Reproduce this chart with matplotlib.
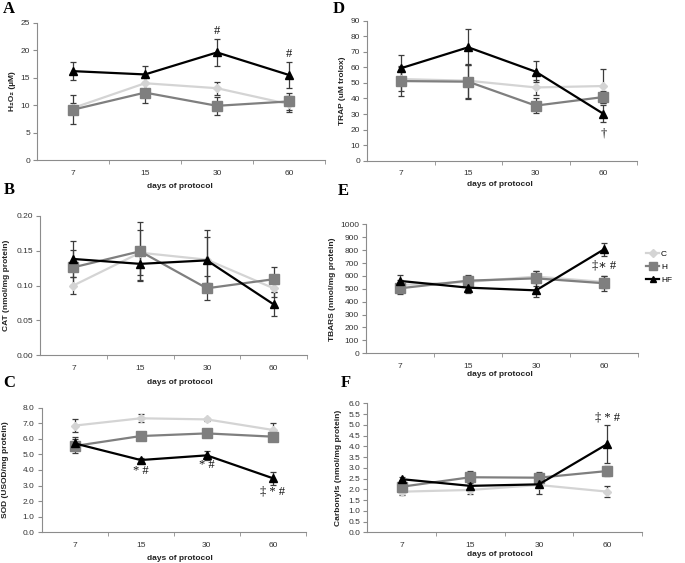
import matplotlib
matplotlib.use("Agg")
import matplotlib.pyplot as plt
from matplotlib.lines import Line2D
import numpy as np

W, H = 685, 563

plt.rcParams['font.family'] = ['Liberation Sans', 'DejaVu Sans']

days = ["7", "15", "30", "60"]
groups = ["C", "H", "HF"]

# A - H2O2 (uM)
h2o2_c = [9.5, 14.0, 13.1, 10.2]
h2o2_c_err = [1.0, 1.2, 1.2, 1.4]
h2o2_h = [9.2, 12.3, 9.9, 10.7]
h2o2_h_err = [2.6, 1.9, 1.6, 1.6]
h2o2_hf = [16.2, 15.6, 19.6, 15.5]
h2o2_hf_err = [1.6, 1.5, 2.4, 2.3]

# B - CAT (nmol/mg protein)
cat_c = [0.100, 0.147, 0.137, 0.096]
cat_c_err = [0.012, 0.032, 0.033, 0.013]
cat_h = [0.126, 0.149, 0.096, 0.109]
cat_h_err = [0.025, 0.042, 0.017, 0.018]
cat_hf = [0.138, 0.131, 0.136, 0.073]
cat_hf_err = [0.026, 0.023, 0.044, 0.017]

# C - SOD (USOD/mg protein)
sod_c = [6.85, 7.32, 7.25, 6.57]
sod_c_err = [0.42, 0.25, 0.10, 0.47]
sod_h = [5.54, 6.18, 6.35, 6.14]
sod_h_err = [0.47, 0.25, 0.15, 0.10]
sod_hf = [5.71, 4.64, 4.94, 3.47]
sod_hf_err = [0.38, 0.10, 0.30, 0.42]

# D - TRAP (uM trolox)
trap_c = [52.5, 51.4, 47.1, 48.0]
trap_c_err = [8.0, 11.0, 5.0, 10.7]
trap_h = [51.2, 50.8, 35.4, 40.9]
trap_h_err = [9.5, 11.0, 5.0, 3.9]
trap_hf = [59.4, 72.9, 57.2, 30.2]
trap_hf_err = [8.7, 11.7, 6.9, 5.6]

# E - TBARS (nmol/mg protein)
tbars_c = [530, 553, 595, 553]
tbars_c_err = [40, 40, 40, 50]
tbars_h = [504, 563, 581, 543]
tbars_h_err = [45, 45, 58, 60]
tbars_hf = [561, 509, 488, 806]
tbars_hf_err = [48, 40, 55, 52]

# F - Carbonyls (nmol/mg protein)
carb_c = [1.89, 1.97, 2.20, 1.89]
carb_c_err = [0.15, 0.20, 0.10, 0.25]
carb_h = [2.12, 2.56, 2.54, 2.85]
carb_h_err = [0.30, 0.27, 0.25, 0.23]
carb_hf = [2.47, 2.16, 2.23, 4.11]
carb_hf_err = [0.12, 0.18, 0.43, 0.90]

# significance marks: (day index, y value, text)
marks_a = [(2, 23.5, "#"), (3, 19.4, "#")]
marks_c = [(1, 3.93, "* #"), (2, 4.32, "* #"), (3, 2.65, "\u2021 * #")]
marks_d = [(3, 17.6, "\u2020")]
marks_e = [(3, 677, "\u2021\u2217 #")]
marks_f = [(3, 5.35, "\u2021 * #")]

STYLE = {
    "C": dict(color="#d4d4d4", marker="D", ms=4.5),
    "H": dict(color="#7f7f7f", marker="s", ms=6.5),
    "HF": dict(color="#000000", marker="^", ms=6),
}
AXIS_GREY = "#8c8c8c"


def px_rect(left, right, top, bottom):
    return [left / W, 1 - bottom / H, (right - left) / W, (bottom - top) / H]


def fx(x):
    return x / W


def fy(y):
    return 1 - y / H


def draw_panel(fig, rect, series, ymax, step, fmt, marks):
    ax = fig.add_axes(rect)
    x = np.arange(len(days))
    for name, (vals, errs) in zip(groups, series):
        st = STYLE[name]
        ax.errorbar(x, vals, yerr=errs, fmt="none", ecolor="#3c3c3c",
                    elinewidth=0.9, capsize=2, capthick=0.9, zorder=2)
        ax.plot(x, vals, color=st["color"], lw=1.6, marker=st["marker"],
                ms=st["ms"], mfc=st["color"], mec=st["color"], zorder=3)
    for idx, yv, txt in marks:
        ax.text(idx, yv, txt, ha="center", va="center", fontsize=9,
                family=["Liberation Serif", "DejaVu Serif"], color="#111111")
    ax.set_xlim(-0.5, 3.5)
    ax.set_ylim(0, ymax)
    ax.set_yticks(np.arange(0, ymax + step / 2, step))
    ax.set_yticklabels([fmt % v for v in np.arange(0, ymax + step / 2, step)])
    ax.set_xticks(x)
    ax.set_xticklabels(days)
    ax.set_xticks([0.5, 1.5, 2.5, 3.5], minor=True)
    ax.tick_params(axis="x", which="major", length=0, pad=7, labelsize=6,
                   labelcolor="#333333")
    ax.tick_params(axis="x", which="minor", length=3, color=AXIS_GREY,
                   direction="out")
    ax.tick_params(axis="y", length=3, color=AXIS_GREY, direction="out",
                   labelsize=6, labelcolor="#333333", pad=2)
    for s in ["top", "right"]:
        ax.spines[s].set_visible(False)
    for s in ["left", "bottom"]:
        ax.spines[s].set_color(AXIS_GREY)
        ax.spines[s].set_linewidth(0.8)
    return ax


fig = plt.figure(figsize=(W / 100, H / 100), dpi=100)

panels = [
    # letter, rect, series, ymax, step, fmt, marks, ylabel, ylabel x, letter pos, xlabel pos
    ("A", px_rect(37, 325, 22.7, 160.3),
     [(h2o2_c, h2o2_c_err), (h2o2_h, h2o2_h_err), (h2o2_hf, h2o2_hf_err)],
     25, 5, "%d", marks_a, "H\u2082O\u2082 (\u00b5M)", 12, (9, 9), (180, 187)),
    ("B", px_rect(40, 307, 215.7, 355.3),
     [(cat_c, cat_c_err), (cat_h, cat_h_err), (cat_hf, cat_hf_err)],
     0.20, 0.05, "%.2f", [], "CAT (nmol/mg protein)", 7, (9, 190), (180, 382)),
    ("C", px_rect(41.5, 306, 407.7, 532.3),
     [(sod_c, sod_c_err), (sod_h, sod_h_err), (sod_hf, sod_hf_err)],
     8.0, 1.0, "%.1f", marks_c, "SOD (USOD/mg protein)", 6, (9, 383), (180, 558)),
    ("D", px_rect(367, 637, 20.7, 160.7),
     [(trap_c, trap_c_err), (trap_h, trap_h_err), (trap_hf, trap_hf_err)],
     90, 10, "%d", marks_d, "TRAP (uM trolox)", 343, (339, 9), (500, 184)),
    ("E", px_rect(366, 638, 224.3, 353.3),
     [(tbars_c, tbars_c_err), (tbars_h, tbars_h_err), (tbars_hf, tbars_hf_err)],
     1000, 100, "%d", marks_e, "TBARS (nmol/mg protein)", 332, (343, 191), (500, 375)),
    ("F", px_rect(367.5, 641.7, 403.3, 532.3),
     [(carb_c, carb_c_err), (carb_h, carb_h_err), (carb_hf, carb_hf_err)],
     6.0, 0.5, "%.1f", marks_f, "Carbonyls (nmol/mg protein)", 338, (346, 383), (500, 555)),
]

for letter, rect, series, ymax, step, fmt, marks, ylabel, ylx, lpos, xlpos in panels:
    ax = draw_panel(fig, rect, series, ymax, step, fmt, marks)
    cy = (rect[1] + rect[3] / 2)
    fig.text(fx(ylx), cy, ylabel, rotation=90, ha="center", va="center",
             fontsize=6, fontweight="bold", color="#222222")
    fig.text(fx(lpos[0]), fy(lpos[1]), letter, ha="center", va="center",
             fontsize=12, fontweight="bold",
             family=["Liberation Serif", "DejaVu Serif"])
    fig.text(fx(xlpos[0]), fy(xlpos[1]), "days of protocol", ha="center",
             va="center", fontsize=6, fontweight="bold", color="#222222")

handles = [Line2D([0], [0], color=STYLE[g]["color"], lw=1.6,
                  marker=STYLE[g]["marker"], ms=STYLE[g]["ms"] * 0.8,
                  mfc=STYLE[g]["color"], mec=STYLE[g]["color"])
           for g in groups]
fig.legend(handles, groups, loc="center left",
           bbox_to_anchor=(fx(646), fy(267)), frameon=False, fontsize=6,
           handlelength=1.6, handletextpad=0.2, labelspacing=0.6,
           borderaxespad=0, borderpad=0)

fig.savefig("out.png", dpi=100)
